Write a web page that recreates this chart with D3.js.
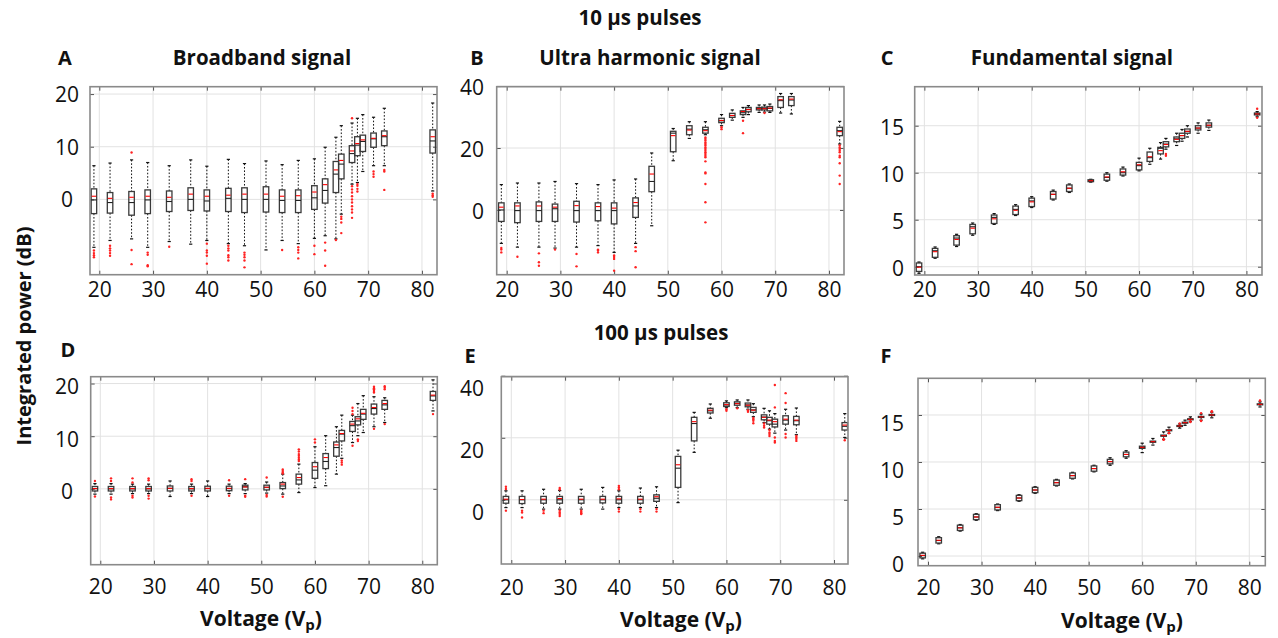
<!DOCTYPE html>
<html>
<head>
<meta charset="utf-8">
<script src="https://cdn.jsdelivr.net/npm/d3@7"></script>
<style>
  body { margin: 0; background: #fff; }
  svg { display: block; font-family: "Open Sans", Lato, sans-serif; }
</style>
</head>
<body>
<svg id="chart" width="1278" height="638"></svg>
<script>
// drive voltages (Vp), shared by every panel
const voltages = [19, 22, 26, 29, 33, 37, 40, 44, 47, 51, 54, 57, 60, 62, 64, 65, 67, 68, 69, 71, 73, 82];
const xTickValues = [20, 30, 40, 50, 60, 70, 80];

// rows: [whiskerLow, q1, median, mean, q3, whiskerHigh]  (dB)
const broadband10 = [
	[-9.1, -2.7, -0.1, 0.6, 2.0, 6.4], [-7.8, -2.6, -0.6, 0.2, 1.3, 6.9], [-7.5, -3.0, -0.6, 0.4, 1.5, 7.5],
	[-9.1, -2.7, -0.1, 0.6, 1.8, 7.0], [-8.0, -2.3, -0.4, 0.4, 1.6, 6.4], [-8.5, -2.1, 0.0, 1.0, 2.2, 7.5],
	[-7.8, -2.2, -0.3, 0.6, 1.8, 6.3], [-8.4, -2.3, 0.2, 0.8, 2.1, 7.6], [-8.8, -2.5, 0.0, 1.0, 2.2, 6.8],
	[-9.6, -2.4, 0.0, 1.0, 2.4, 7.3], [-7.8, -2.5, -0.2, 0.6, 1.8, 6.6], [-8.4, -2.5, -0.2, 0.7, 1.8, 7.4],
	[-7.4, -1.9, 0.3, 1.4, 2.6, 7.7], [-6.9, -0.7, 1.7, 2.8, 3.9, 9.9], [-7.5, 1.3, 4.8, 5.6, 7.2, 11.8],
	[-2.8, 3.9, 6.7, 7.4, 8.6, 14.0], [2.9, 7.0, 8.7, 9.2, 10.2, 14.5], [3.2, 8.3, 10.3, 10.6, 11.9, 15.4],
	[5.3, 9.1, 11.0, 11.3, 12.2, 16.1], [6.4, 9.9, 11.5, 11.6, 12.6, 15.6], [6.4, 10.2, 11.9, 12.1, 13.0, 17.3],
	[1.6, 8.8, 11.1, 11.9, 13.2, 18.3]
];
const broadband10Outliers = [
	[-9.7, -10.2, -10.6, -11.0], [-8.8, -9.3, -9.7, -10.2, -10.7], [8.9, -9.6, -12.3],
	[-10.1, -10.5, -12.5, -12.7], [-9.0], [],
	[-8.4, -9.7, -10.1, -10.7, -12.2], [-8.8, -9.3, -9.7, -10.6, -11.0, -11.6], [-10.1, -10.5, -11.0, -11.6, -12.9],
	[], [-9.6], [-9.1, -9.6, -10.1, -11.2],
	[-8.8, -10.4], [-8.2, -9.7, -12.6], [-7.7],
	[-3.3, -3.7, -4.4, -6.4], [15.4, 2.5, 1.9, 1.3, 0.6, 0.0, -0.6, -1.3, -1.9, -2.5, -3.5], [2.9, 2.6, 2.0, 1.5],
	[], [5.3, 4.8, 4.3], [5.6, 5.3, 1.8],
	[1.1, 0.8, 0.5]
];

const ultraHarmonic10 = [
	[-10.8, -3.7, 0.0, 0.9, 2.3, 8.2], [-12.0, -4.1, -0.2, 1.3, 2.3, 8.7], [-12.0, -3.7, -0.2, 1.3, 2.6, 8.7],
	[-12.3, -3.7, 0.4, 0.9, 1.9, 9.2], [-12.0, -3.9, -0.2, 1.4, 2.8, 8.5], [-11.5, -3.5, -0.2, 1.1, 2.3, 8.2],
	[-13.7, -4.5, -0.2, 0.6, 2.3, 9.7], [-10.8, -2.4, 1.3, 2.4, 3.9, 10.0], [-5.1, 5.9, 9.2, 11.6, 14.1, 18.4],
	[15.9, 18.8, 24.8, 24.0, 25.4, 26.3], [23.1, 24.3, 26.1, 25.8, 27.2, 28.5], [24.3, 24.8, 25.9, 25.6, 26.7, 28.5],
	[27.2, 28.2, 28.8, 28.9, 29.6, 30.8], [29.0, 29.9, 30.5, 30.5, 31.2, 32.3], [29.9, 30.8, 31.4, 31.8, 32.0, 33.1],
	[30.8, 31.7, 32.5, 32.4, 33.1, 33.7], [31.5, 32.3, 32.7, 32.7, 33.1, 33.9], [31.6, 32.3, 32.8, 32.7, 33.2, 33.9],
	[31.5, 32.0, 32.8, 32.9, 33.4, 34.2], [31.3, 33.1, 35.3, 35.6, 36.6, 37.6], [31.0, 33.7, 35.5, 35.8, 36.6, 37.6],
	[21.3, 24.0, 25.6, 25.3, 26.7, 28.6]
];
const ultraHarmonic10Outliers = [
	[-12.3, -12.8, -13.7], [-15.1], [-14.0, -16.9, -18.0],
	[-12.8], [-14.2, -18.2], [-12.8, -13.1, -13.7],
	[-14.7, -15.2, -15.8, -19.6], [-12.0, -13.3, -18.5], [],
	[], [], [23.4, 22.9, 22.4, 21.8, 21.3, 20.8, 20.2, 19.7, 19.1, 18.6, 18.1, 17.5, 17.0, 15.7, 12.1, 11.8, 8.4, 2.5, -4.0],
	[26.7, 26.1], [], [28.8, 24.8],
	[], [], [31.3],
	[], [], [],
	[20.8, 20.2, 19.7, 19.1, 18.6, 17.5, 17.0, 15.1, 11.1, 8.4]
];

const fundamental10 = [
	[-0.7, -0.5, 0.0, -0.05, 0.4, 0.5], [0.9, 1.0, 1.7, 1.6, 1.95, 2.1], [2.15, 2.3, 3.05, 2.9, 3.3, 3.45],
	[3.35, 3.5, 4.25, 4.1, 4.5, 4.65], [4.5, 4.6, 5.25, 5.1, 5.5, 5.65], [5.45, 5.55, 6.1, 6.0, 6.45, 6.6],
	[6.3, 6.4, 7.0, 6.9, 7.3, 7.45], [7.1, 7.2, 7.7, 7.7, 8.0, 8.15], [7.9, 8.0, 8.35, 8.35, 8.7, 8.8],
	[9.0, 9.05, 9.15, 9.15, 9.25, 9.3], [9.1, 9.2, 9.5, 9.55, 9.85, 10.0], [9.65, 9.75, 10.0, 10.1, 10.4, 10.6],
	[10.2, 10.3, 10.75, 10.85, 11.1, 11.55], [10.9, 11.2, 11.6, 11.7, 12.2, 12.6], [11.45, 12.0, 12.6, 12.35, 12.7, 13.2],
	[12.5, 12.75, 13.05, 13.0, 13.3, 13.65], [12.9, 13.3, 13.6, 13.55, 13.8, 14.2], [13.35, 13.65, 13.95, 13.95, 14.2, 14.6],
	[13.8, 14.2, 14.4, 14.4, 14.65, 15.0], [14.2, 14.55, 14.75, 14.75, 15.0, 15.3], [14.5, 14.85, 15.05, 15.05, 15.3, 15.6],
	[15.95, 16.15, 16.25, 16.25, 16.35, 16.5]
];
const fundamental10Outliers = [
	[], [], [], [], [], [], [], [], [], [], [], [], [], [], [],
	[12.0, 11.8], [], [], [], [], [],
	[16.8, 15.85]
];

const broadband100 = [
	[-1.0, -0.4, 0.05, 0.05, 0.45, 1.0], [-1.0, -0.4, 0.0, 0.05, 0.45, 1.0], [-0.9, -0.4, 0.0, 0.05, 0.45, 0.9],
	[-0.9, -0.4, 0.0, 0.05, 0.45, 0.9], [-1.45, -0.4, 0.1, 0.1, 0.55, 1.5], [-0.9, -0.4, 0.0, 0.05, 0.45, 0.9],
	[-1.45, -0.4, 0.05, 0.1, 0.5, 1.5], [-0.9, -0.35, 0.05, 0.1, 0.5, 0.9], [-0.9, -0.2, 0.4, 0.35, 0.7, 1.0],
	[-0.8, -0.2, 0.3, 0.3, 0.7, 1.3], [-1.0, 0.05, 0.55, 0.9, 1.2, 2.8], [-0.7, 0.9, 1.7, 2.15, 2.8, 4.7],
	[0.25, 2.0, 3.55, 4.2, 5.0, 8.0], [0.6, 3.85, 5.2, 5.95, 6.7, 10.1], [2.8, 6.2, 7.85, 8.35, 8.9, 11.8],
	[5.8, 9.1, 10.4, 10.5, 11.1, 14.0], [8.8, 10.9, 12.0, 12.3, 12.8, 14.0], [10.1, 12.15, 12.9, 13.3, 13.7, 16.2],
	[10.7, 13.2, 14.2, 14.35, 15.1, 17.7], [11.8, 14.2, 15.25, 15.45, 16.1, 17.5], [12.6, 15.1, 15.95, 16.2, 16.8, 17.3],
	[14.8, 16.8, 17.65, 17.8, 18.5, 20.7]
];
const broadband100Outliers = [
	[1.5, -1.45], [2.0, 1.5, -1.65, -2.0], [2.0, 1.2, -1.3, -1.65],
	[2.0, 1.65, -1.3, -1.85], [], [1.85, 1.5, -1.3],
	[], [1.65, -1.3], [1.85, -1.3, -1.5],
	[2.15, -1.15, -1.45], [3.7, 3.4, 3.1, 2.9, -1.5], [7.5, 7.1, 6.6, 6.3, 5.9, 5.6, 5.3],
	[9.4, 8.8], [], [],
	[5.4, 5.0, 4.6], [15.4, 14.8, 14.2, 8.2], [9.4, 9.1],
	[], [19.4, 19.1, 18.9, 18.6, 18.3, 11.4], [19.5, 19.2, 18.9, 12.3],
	[14.2]
];

const ultraHarmonic100 = [
	[-2.5, -1.1, 0.0, 0.2, 1.1, 2.9], [-2.5, -1.2, 0.0, 0.1, 1.1, 2.9], [-3.0, -1.1, 0.0, 0.2, 1.1, 3.4],
	[-3.0, -1.1, 0.0, 0.4, 1.1, 3.0], [-3.0, -1.1, 0.0, 0.2, 1.1, 3.4], [-3.0, -1.0, 0.0, 0.2, 1.1, 4.0],
	[-2.5, -1.1, 0.0, 0.3, 1.1, 2.9], [-2.5, -1.1, 0.0, 0.2, 1.1, 3.8], [-2.5, -0.5, 0.5, 1.0, 1.6, 4.2],
	[-0.9, 4.0, 10.2, 11.3, 14.0, 16.0], [15.3, 19.0, 24.6, 25.2, 26.6, 28.2], [26.3, 28.0, 28.7, 28.9, 29.5, 30.9],
	[29.7, 30.1, 30.6, 30.7, 31.3, 31.9], [29.7, 30.5, 31.1, 31.0, 31.6, 32.2], [29.2, 30.0, 30.6, 30.5, 31.2, 32.2],
	[26.8, 28.2, 29.0, 28.9, 29.8, 31.0], [24.9, 25.8, 26.7, 26.6, 27.4, 29.5], [22.8, 24.4, 25.5, 25.7, 26.6, 28.7],
	[21.5, 23.5, 24.4, 25.2, 26.0, 27.8], [22.5, 24.4, 25.7, 26.0, 27.1, 29.2], [21.0, 24.2, 25.5, 25.7, 26.9, 29.6],
	[20.1, 22.5, 23.7, 24.1, 24.9, 27.8]
];
const ultraHarmonic100Outliers = [
	[4.2, 3.5, -3.5], [-3.5, -4.1, -5.7], [-3.5, -4.3],
	[3.8, 3.3, -3.5, -4.1, -4.6, -5.2], [-3.5, -3.9, -4.3, -4.6], [],
	[4.5, 4.0, 3.4, -3.0, -3.8], [-3.0, -3.8], [-3.0, -3.8],
	[], [], [],
	[29.2, 28.7], [29.5], [28.9, 28.4],
	[26.4, 26.0, 25.5, 24.7], [24.6, 23.9, 23.3], [22.5, 21.7, 21.2, 20.6],
	[37.0, 29.8, 20.1, 19.0, 18.5], [34.4, 31.2, 21.2, 20.1], [20.6, 20.1, 19.6, 19.0],
	[19.2]
];

const fundamental100 = [
	[-0.3, -0.2, 0.05, 0.07, 0.3, 0.4], [1.3, 1.38, 1.65, 1.67, 1.95, 2.05], [2.65, 2.72, 3.0, 3.0, 3.28, 3.35],
	[3.8, 3.87, 4.15, 4.15, 4.43, 4.5], [4.83, 4.9, 5.18, 5.18, 5.46, 5.53], [5.82, 5.89, 6.17, 6.17, 6.45, 6.52],
	[6.67, 6.74, 7.02, 7.02, 7.3, 7.37], [7.45, 7.52, 7.8, 7.8, 8.08, 8.15], [8.2, 8.27, 8.55, 8.55, 8.83, 8.9],
	[8.95, 9.02, 9.3, 9.3, 9.58, 9.65], [9.65, 9.8, 10.04, 10.04, 10.28, 10.45], [10.4, 10.55, 10.8, 10.8, 11.05, 11.2],
	[11.0, 11.45, 11.56, 11.56, 11.68, 12.0], [11.8, 12.1, 12.16, 12.16, 12.22, 12.5], [12.4, 12.74, 12.8, 12.8, 12.86, 13.2],
	[13.05, 13.32, 13.37, 13.37, 13.42, 13.7], [13.6, 13.78, 13.83, 13.83, 13.88, 14.05], [13.9, 14.13, 14.18, 14.18, 14.23, 14.45],
	[14.3, 14.49, 14.54, 14.54, 14.59, 14.8], [14.45, 14.74, 14.79, 14.79, 14.84, 15.1], [14.7, 14.95, 15.0, 15.0, 15.05, 15.3],
	[15.85, 16.08, 16.13, 16.13, 16.18, 16.4]
];
const fundamental100Outliers = [
	[], [], [], [], [], [], [], [], [], [], [], [], [], [],
	[12.35, 12.45], [13.05, 13.1], [14.1], [],
	[14.3, 14.25], [15.2, 14.4, 14.35], [15.35, 15.4],
	[16.5, 16.55]
];

const panels = [
	{ letter: 'A', title: 'Broadband signal', rows: broadband10, outliers: broadband10Outliers,
		frame: [90, 86.7, 437, 274.7], xDomain: [18.27, 82.8], yDomain: [-14.3, 21.4], yTicks: [0, 10, 20],
		yLabelX: 67, yLabelAnchor: 'middle', yLabelDy: 0, xLabelY: 290, letterPos: [65, 58], titlePos: [262, 58] },
	{ letter: 'B', title: 'Ultra harmonic signal', rows: ultraHarmonic10, outliers: ultraHarmonic10Outliers,
		frame: [496.7, 86.7, 844, 274.7], xDomain: [18.14, 82.8], yDomain: [-20.9, 39.8], yTicks: [0, 20, 40],
		yLabelX: 484, yLabelAnchor: 'end', yLabelDy: 1.5, xLabelY: 290, letterPos: [477, 58], titlePos: [650, 58] },
	{ letter: 'C', title: 'Fundamental signal', rows: fundamental10, outliers: fundamental10Outliers,
		frame: [914.7, 86.7, 1262, 275], xDomain: [18.2, 82.9], yDomain: [-0.88, 19.15], yTicks: [0, 5, 10, 15],
		yLabelX: 904, yLabelAnchor: 'end', yLabelDy: 1, xLabelY: 290, letterPos: [887, 58], titlePos: [1072, 58] },
	{ letter: 'D', title: '', rows: broadband100, outliers: broadband100Outliers,
		frame: [90.7, 376.7, 437.3, 564.7], xDomain: [18.21, 82.8], yDomain: [-14.4, 21.3], yTicks: [0, 10, 20],
		yLabelX: 67, yLabelAnchor: 'middle', yLabelDy: 2.5, xLabelY: 587, letterPos: [68, 350], titlePos: null },
	{ letter: 'E', title: '', rows: ultraHarmonic100, outliers: ultraHarmonic100Outliers,
		frame: [501.3, 376.7, 848, 564], xDomain: [18.14, 82.6], yDomain: [-20.7, 39.7], yTicks: [0, 20, 40],
		yLabelX: 484, yLabelAnchor: 'end', yLabelDy: 12, xLabelY: 588, letterPos: [470, 356], titlePos: null },
	{ letter: 'F', title: '', rows: fundamental100, outliers: fundamental100Outliers,
		frame: [918, 378.3, 1265.3, 565.7], xDomain: [18.13, 82.99], yDomain: [-1.03, 18.9], yTicks: [0, 5, 10, 15],
		yLabelX: 904, yLabelAnchor: 'end', yLabelDy: 8, xLabelY: 588, letterPos: [886, 356], titlePos: null }
];

const svg = d3.select('#chart');
svg.append('rect').attr('width', 1278).attr('height', 638).attr('fill', '#fff');

const boxWidth = 5.5;
const capHalf = 1.6;
const fontFamily = '"Open Sans", Lato, sans-serif';

function drawPanel(p) {
	let [left, top, right, bottom] = p.frame;
	let xScale = d3.scaleLinear().domain(p.xDomain).range([left, right]);
	let yScale = d3.scaleLinear().domain(p.yDomain).range([bottom, top]);
	let g = svg.append('g');

	// grid
	g.append('g').selectAll('line').data(xTickValues).join('line')
		.attr('x1', d => xScale(d)).attr('x2', d => xScale(d))
		.attr('y1', top).attr('y2', bottom)
		.style('stroke', '#e2e2e2').style('stroke-width', 1);
	g.append('g').selectAll('line').data(p.yTicks).join('line')
		.attr('x1', left).attr('x2', right)
		.attr('y1', d => yScale(d)).attr('y2', d => yScale(d))
		.style('stroke', '#e2e2e2').style('stroke-width', 1);

	// inner tick marks on all four sides
	let axes = [
		[d3.axisBottom(xScale).tickValues(xTickValues), 0, bottom],
		[d3.axisTop(xScale).tickValues(xTickValues), 0, top],
		[d3.axisLeft(yScale).tickValues(p.yTicks), left, 0],
		[d3.axisRight(yScale).tickValues(p.yTicks), right, 0]
	];
	axes.forEach(function(a) {
		let axisG = g.append('g')
			.attr('transform', 'translate(' + a[1] + ',' + a[2] + ')')
			.call(a[0].tickSizeInner(-4).tickSizeOuter(0).tickFormat(''));
		axisG.select('.domain').remove();
		axisG.selectAll('line').style('stroke', '#555').style('stroke-width', 1);
	});

	// tick labels
	let xLabels = g.append('g')
		.attr('transform', 'translate(0,' + p.xLabelY + ')')
		.call(d3.axisBottom(xScale).tickValues(xTickValues).tickSize(0).tickPadding(0));
	xLabels.select('.domain').remove();
	xLabels.selectAll('text')
		.attr('y', 0).attr('dy', '0.35em')
		.style('font-family', fontFamily)
		.style('font-size', '21px').style('fill', '#111');

	let yLabels = g.append('g')
		.attr('transform', 'translate(' + p.yLabelX + ',' + p.yLabelDy + ')')
		.call(d3.axisLeft(yScale).tickValues(p.yTicks).tickSize(0).tickPadding(0));
	yLabels.select('.domain').remove();
	yLabels.selectAll('text')
		.attr('x', 0).attr('dy', '0.35em')
		.attr('text-anchor', p.yLabelAnchor)
		.style('font-family', fontFamily)
		.style('font-size', '21px').style('fill', '#111');

	// boxes
	let boxes = g.append('g').selectAll('g')
		.data(p.rows.map((r, i) => ({ v: voltages[i], r: r, out: p.outliers[i] })))
		.join('g');

	boxes.append('line')
		.attr('x1', d => xScale(d.v)).attr('x2', d => xScale(d.v))
		.attr('y1', d => yScale(d.r[5])).attr('y2', d => yScale(d.r[4]))
		.style('stroke', '#111').style('stroke-width', 1).style('stroke-dasharray', '1.6,1.8');
	boxes.append('line')
		.attr('x1', d => xScale(d.v)).attr('x2', d => xScale(d.v))
		.attr('y1', d => yScale(d.r[1])).attr('y2', d => yScale(d.r[0]))
		.style('stroke', '#111').style('stroke-width', 1).style('stroke-dasharray', '1.6,1.8');
	[0, 5].forEach(function(k) {
		boxes.append('line')
			.attr('x1', d => xScale(d.v) - capHalf).attr('x2', d => xScale(d.v) + capHalf)
			.attr('y1', d => yScale(d.r[k])).attr('y2', d => yScale(d.r[k]))
			.style('stroke', '#111').style('stroke-width', 1.2);
	});
	boxes.append('rect')
		.attr('x', d => xScale(d.v) - boxWidth / 2)
		.attr('y', d => yScale(d.r[4]))
		.attr('width', boxWidth)
		.attr('height', d => Math.max(yScale(d.r[1]) - yScale(d.r[4]), 0.5))
		.style('fill', 'none').style('stroke', '#3a3a3a').style('stroke-width', 1.3);
	boxes.append('line')
		.attr('x1', d => xScale(d.v) - boxWidth / 2).attr('x2', d => xScale(d.v) + boxWidth / 2)
		.attr('y1', d => yScale(d.r[2])).attr('y2', d => yScale(d.r[2]))
		.style('stroke', '#222').style('stroke-width', 1.1);
	boxes.append('line')
		.attr('x1', d => xScale(d.v) - boxWidth / 2 + 0.5).attr('x2', d => xScale(d.v) + boxWidth / 2 - 0.5)
		.attr('y1', d => yScale(d.r[3])).attr('y2', d => yScale(d.r[3]))
		.style('stroke', '#f00').style('stroke-width', 1.1);
	boxes.selectAll('circle')
		.data(d => d.out.map(o => ({ v: d.v, o: o })))
		.join('circle')
		.attr('cx', d => xScale(d.v)).attr('cy', d => yScale(d.o))
		.attr('r', 1.2)
		.style('fill', '#f22');

	// frame
	g.append('rect')
		.attr('x', left).attr('y', top)
		.attr('width', right - left).attr('height', bottom - top)
		.style('fill', 'none').style('stroke', '#8a8a8a').style('stroke-width', 1.6);

	// panel letter and title
	svg.append('text')
		.attr('x', p.letterPos[0]).attr('y', p.letterPos[1]).attr('dy', '0.35em')
		.attr('text-anchor', 'middle')
		.style('font-weight', 'bold').style('font-size', '20px').style('fill', '#111')
		.text(p.letter);
	if (p.titlePos)
		svg.append('text')
			.attr('x', p.titlePos[0]).attr('y', p.titlePos[1]).attr('dy', '0.35em')
			.attr('text-anchor', 'middle')
			.style('font-weight', 'bold').style('font-size', '20.5px').style('fill', '#111')
			.text(p.title);
}

panels.forEach(drawPanel);

// headers and shared axis titles
svg.append('text')
	.attr('x', 640).attr('y', 18).attr('dy', '0.35em').attr('text-anchor', 'middle')
	.style('font-weight', 'bold').style('font-size', '20.5px').style('fill', '#111')
	.text('10 µs pulses');
svg.append('text')
	.attr('x', 661).attr('y', 333).attr('dy', '0.35em').attr('text-anchor', 'middle')
	.style('font-weight', 'bold').style('font-size', '20.5px').style('fill', '#111')
	.text('100 µs pulses');
svg.append('text')
	.attr('transform', 'translate(24,336) rotate(-90)')
	.attr('dy', '0.35em').attr('text-anchor', 'middle')
	.style('font-weight', 'bold').style('font-size', '20px').style('fill', '#111')
	.text('Integrated power (dB)');

[[261, 619], [681, 620], [1122, 621]].forEach(function(pos) {
	let t = svg.append('text')
		.attr('x', pos[0]).attr('y', pos[1]).attr('dy', '0.35em').attr('text-anchor', 'middle')
		.style('font-weight', 'bold').style('font-size', '21px').style('fill', '#111');
	t.append('tspan').text('Voltage (V');
	t.append('tspan').attr('dy', '4').style('font-size', '15px').text('p');
	t.append('tspan').attr('dy', '-4').text(')');
});
</script>
</body>
</html>
